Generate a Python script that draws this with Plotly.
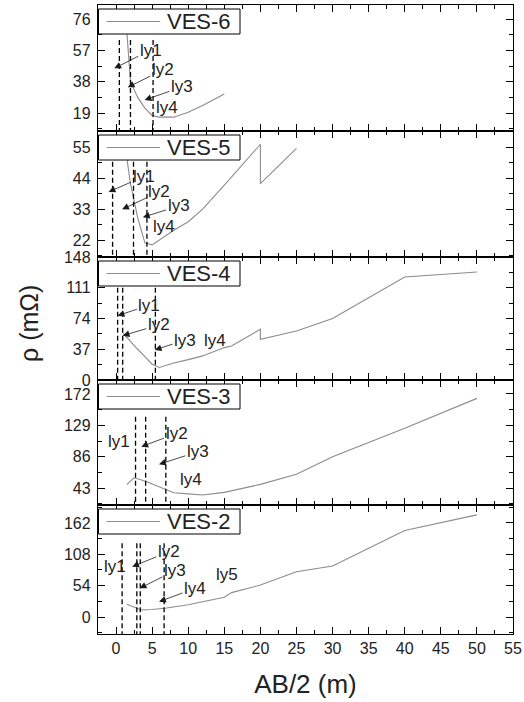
import plotly.graph_objects as go
from plotly.subplots import make_subplots

# ---------------- data ----------------
panel_names = ["VES-6", "VES-5", "VES-4", "VES-3", "VES-2"]

ves6_x = [1.5, 2, 3, 4, 5, 6, 8, 10, 12, 15]
ves6_y = [68, 38, 28.5, 22, 17.5, 16.5, 16.5, 19.5, 23.5, 30.5]

ves5_x = [1.5, 2, 3, 4, 5, 6, 8, 10, 12, 15, 20, 20, 25]
ves5_y = [51, 42, 30, 21, 20.3, 22, 25.5, 28.5, 33, 41.5, 56, 42, 54.5]

ves4_x = [1, 2, 3, 4, 5, 6, 8, 10, 12, 15, 16, 20, 20, 25, 30, 40, 50]
ves4_y = [56, 46, 37, 28, 19, 15, 20.5, 24.5, 29, 39, 41, 61, 49, 59, 74, 124, 130]

ves3_x = [1.5, 2.5, 4, 6, 7, 8, 10, 12, 15, 20, 25, 30, 40, 50]
ves3_y = [48, 57, 52.5, 45, 41, 36.5, 35, 33.5, 37, 48, 62, 86, 125, 166]

ves2_x = [1.5, 3, 3.5, 5, 7, 10, 15, 16, 20, 25, 30, 40, 50]
ves2_y = [22, 14, 12, 13, 15.5, 21, 34, 42, 55, 78, 88, 149, 176]

# layer boundary positions (dashed lines) and their top value
ves6_layers = [0.46, 2.0, 5.13]
ves5_layers = [-0.48, 2.42, 4.28]
ves4_layers = [0.22, 0.92, 5.45]
ves3_layers = [2.7, 4.1, 6.9]
ves2_layers = [0.84, 2.88, 3.36, 6.66]
layer_tops = [63.3, 49.8, 111, 140.8, 127]

# layer labels: (text, head_x, head_y, text_x, text_y); head_x None -> no arrow
ves6_labels = [("ly1", -0.24, 46.1, 4.8, 57.2), ("ly2", 1.62, 34.6, 6.48, 45.1),
               ("ly3", 3.96, 26.9, 9.13, 34.8), ("ly4", None, None, 7.03, 22.6)]
ves5_labels = [("ly1", -1.03, 39.1, 3.82, 44.5), ("ly2", 0.84, 32.9, 5.99, 39.1),
               ("ly3", 3.72, 30.1, 8.67, 34.1), ("ly4", None, None, 6.62, 26.7)]
ves4_labels = [("ly1", 0.22, 77.4, 4.62, 90.2), ("ly2", 0.92, 53.3, 5.92, 66.2),
               ("ly3", 5.36, 36.1, 9.55, 48.1), ("ly4", None, None, 13.75, 48.1)]
ves3_labels = [("ly1", None, None, 0.46, 106.5), ("ly2", 3.5, 99.7, 8.39, 118),
               ("ly3", 5.96, 75.5, 11.33, 92.8), ("ly4", None, None, 10.39, 55.3)]
ves2_labels = [("ly1", None, None, -0.1, 86.7), ("ly2", 2.24, 86.7, 7.31, 112.5),
               ("ly3", 3.26, 49.4, 8.15, 79.8), ("ly4", 5.96, 26.4, 10.95, 49.4),
               ("ly5", None, None, 15.43, 72.4)]

y_ranges = [[8.1, 84.5], [16.0, 60.7], [0, 148], [19.7, 191.2], [-29.3, 193]]
y_dticks = [19, 11, 37, 43, 54]
x_range = [-2.5, 55]

xs = [ves6_x, ves5_x, ves4_x, ves3_x, ves2_x]
ys = [ves6_y, ves5_y, ves4_y, ves3_y, ves2_y]
layers = [ves6_layers, ves5_layers, ves4_layers, ves3_layers, ves2_layers]
labels = [ves6_labels, ves5_labels, ves4_labels, ves3_labels, ves2_labels]

# ---------------- layout geometry (pixels) ----------------
W, H = 524, 702
PL, PR, PT, PB = 98, 513, 5, 634
panel_tops = [5, 131, 257, 380, 505]
panel_bots = [131, 257, 380, 505, 634]


def fx(px):
    return (px - PL) / (PR - PL)


def fy(py):
    return (PB - py) / (PB - PT)


FONT = "Liberation Sans, Arial, sans-serif"
TXT = "#222222"
CURVE = "#8c8c8c"

fig = make_subplots(rows=5, cols=1, shared_xaxes=True, vertical_spacing=0)

for i in range(5):
    fig.add_trace(go.Scatter(x=xs[i], y=ys[i], mode="lines", name=panel_names[i],
                             line=dict(color=CURVE, width=1.1), showlegend=False),
                  row=i + 1, col=1)

shapes = []
annotations = []
for i in range(5):
    sfx = "" if i == 0 else str(i + 1)
    xr, yr = "x" + sfx, "y" + sfx
    # dashed layer lines
    for lx in layers[i]:
        shapes.append(dict(type="line", xref=xr, yref=yr, x0=lx, x1=lx,
                           y0=layer_tops[i], y1=y_ranges[i][0],
                           line=dict(color="black", width=1.3, dash="5px,3px")))
    # labels
    for (t, hx, hy, tx, ty) in labels[i]:
        if hx is None:
            annotations.append(dict(x=tx, y=ty, xref=xr, yref=yr, text=t, showarrow=False,
                                    font=dict(size=17, color=TXT, family=FONT)))
        else:
            annotations.append(dict(x=hx, y=hy, xref=xr, yref=yr, ax=tx, ay=ty,
                                    axref=xr, ayref=yr, text=t, showarrow=True,
                                    arrowhead=2, arrowsize=1.7, arrowwidth=0.8,
                                    arrowcolor="#1a1a1a", standoff=0,
                                    font=dict(size=17, color=TXT, family=FONT)))
    # legend box
    top = panel_tops[i] + 4
    bot = panel_tops[i] + 29
    shapes.append(dict(type="rect", xref="paper", yref="paper", x0=fx(98.5), x1=fx(240),
                       y0=fy(bot), y1=fy(top), fillcolor="white",
                       line=dict(color="black", width=1), layer="above"))
    cy = (top + bot) / 2
    shapes.append(dict(type="line", xref="paper", yref="paper", x0=fx(106.7), x1=fx(160),
                       y0=fy(cy), y1=fy(cy), line=dict(color=CURVE, width=1.2), layer="above"))
    annotations.append(dict(x=fx(165), y=fy(cy), xref="paper", yref="paper", text=panel_names[i],
                            showarrow=False, xanchor="left", yanchor="middle",
                            font=dict(size=22, color=TXT, family=FONT)))

# y title
annotations.append(dict(x=fx(29), y=fy(324), xref="paper", yref="paper", text="ρ (mΩ)",
                        textangle=-90, showarrow=False, xanchor="center", yanchor="middle",
                        font=dict(size=25, color=TXT, family=FONT)))

axis_common = dict(showline=True, linecolor="black", linewidth=1.3, mirror="allticks",
                   ticks="inside", ticklen=7, tickwidth=1.2, tickcolor="black",
                   showgrid=False, zeroline=False, automargin=False,
                   tickfont=dict(size=16, color=TXT, family=FONT))

domains = [[fy(b), fy(t)] for t, b in zip(panel_tops, panel_bots)]
domains[0][1] = 1.0
domains[4][0] = 0.0

for i in range(5):
    sfx = "" if i == 0 else str(i + 1)
    fig.layout["yaxis" + sfx].update(
        domain=domains[i], range=y_ranges[i], tick0=0, dtick=y_dticks[i],
        ticklabelstandoff=3,
        minor=dict(dtick=y_dticks[i] / 2, tick0=0, ticks="inside", ticklen=4,
                   tickwidth=1.2, tickcolor="black", showgrid=False),
        **axis_common)
    fig.layout["xaxis" + sfx].update(
        range=x_range, tick0=0, dtick=5, showticklabels=(i == 4),
        minor=dict(dtick=2.5, tick0=0, ticks="inside", ticklen=4,
                   tickwidth=1.2, tickcolor="black", showgrid=False),
        **axis_common)

fig.layout.xaxis5.title = dict(text="AB/2 (m)", font=dict(size=26, color=TXT, family=FONT),
                               standoff=18)

fig.update_layout(
    template="none",
    width=W, height=H,
    margin=dict(l=PL, r=W - PR, t=PT, b=H - PB, pad=0),
    paper_bgcolor="white", plot_bgcolor="white",
    showlegend=False,
    shapes=shapes, annotations=annotations,
    font=dict(family=FONT, color=TXT),
)

fig.write_html("out.html", config={"displayModeBar": False},
               post_script="document.body.style.margin='0';")
